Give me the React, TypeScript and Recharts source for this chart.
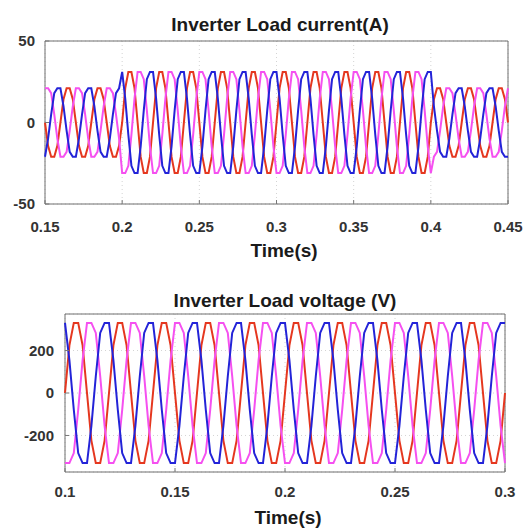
import React from 'react';
import { LineChart, Line, XAxis, YAxis, CartesianGrid, ReferenceArea } from 'recharts';

// sample times in ms (2 ms steps)
const currentTimeMs = [
  150, 152, 154, 156, 158, 160, 162, 164, 166, 168,
  170, 172, 174, 176, 178, 180, 182, 184, 186, 188,
  190, 192, 194, 196, 198, 200, 202, 204, 206, 208,
  210, 212, 214, 216, 218, 220, 222, 224, 226, 228,
  230, 232, 234, 236, 238, 240, 242, 244, 246, 248,
  250, 252, 254, 256, 258, 260, 262, 264, 266, 268,
  270, 272, 274, 276, 278, 280, 282, 284, 286, 288,
  290, 292, 294, 296, 298, 300, 302, 304, 306, 308,
  310, 312, 314, 316, 318, 320, 322, 324, 326, 328,
  330, 332, 334, 336, 338, 340, 342, 344, 346, 348,
  350, 352, 354, 356, 358, 360, 362, 364, 366, 368,
  370, 372, 374, 376, 378, 380, 382, 384, 386, 388,
  390, 392, 394, 396, 398, 400, 402, 404, 406, 408,
  410, 412, 414, 416, 418, 420, 422, 424, 426, 428,
  430, 432, 434, 436, 438, 440, 442, 444, 446, 448,
  450,
];

const currentRed = [
  0, -14.3, -21, -21, -14.3, 0, 14.3, 21, 21, 14.3,
  0, -14.3, -21, -21, -14.3, 0, 14.3, 21, 21, 14.3,
  0, -14.3, -21, -21, -14.3, 0, 21.1, 31, 31, 21.1,
  0, -21.1, -31, -31, -21.1, 0, 21.1, 31, 31, 21.1,
  0, -21.1, -31, -31, -21.1, 0, 21.1, 31, 31, 21.1,
  0, -21.1, -31, -31, -21.1, 0, 21.1, 31, 31, 21.1,
  0, -21.1, -31, -31, -21.1, 0, 21.1, 31, 31, 21.1,
  0, -21.1, -31, -31, -21.1, 0, 21.1, 31, 31, 21.1,
  0, -21.1, -31, -31, -21.1, 0, 21.1, 31, 31, 21.1,
  0, -21.1, -31, -31, -21.1, 0, 21.1, 31, 31, 21.1,
  0, -21.1, -31, -31, -21.1, 0, 21.1, 31, 31, 21.1,
  0, -21.1, -31, -31, -21.1, 0, 21.1, 31, 31, 21.1,
  0, -21.1, -31, -31, -21.1, 0, 14.3, 21, 21, 14.3,
  0, -14.3, -21, -21, -14.3, 0, 14.3, 21, 21, 14.3,
  0, -14.3, -21, -21, -14.3, 0, 14.3, 21, 21, 14.3,
  0,
];

const currentMagenta = [
  21, 21, 18, 5, -9.9, -21, -21, -18, -5, 9.9,
  21, 21, 18, 5, -9.9, -21, -21, -18, -5, 9.9,
  21, 21, 18, 5, -9.9, -31, -31, -26.6, -7.4, 14.6,
  31, 31, 26.6, 7.4, -14.6, -31, -31, -26.6, -7.4, 14.6,
  31, 31, 26.6, 7.4, -14.6, -31, -31, -26.6, -7.4, 14.6,
  31, 31, 26.6, 7.4, -14.6, -31, -31, -26.6, -7.4, 14.6,
  31, 31, 26.6, 7.4, -14.6, -31, -31, -26.6, -7.4, 14.6,
  31, 31, 26.6, 7.4, -14.6, -31, -31, -26.6, -7.4, 14.6,
  31, 31, 26.6, 7.4, -14.6, -31, -31, -26.6, -7.4, 14.6,
  31, 31, 26.6, 7.4, -14.6, -31, -31, -26.6, -7.4, 14.6,
  31, 31, 26.6, 7.4, -14.6, -31, -31, -26.6, -7.4, 14.6,
  31, 31, 26.6, 7.4, -14.6, -31, -31, -26.6, -7.4, 14.6,
  31, 31, 26.6, 7.4, -14.6, -31, -21, -18, -5, 9.9,
  21, 21, 18, 5, -9.9, -21, -21, -18, -5, 9.9,
  21, 21, 18, 5, -9.9, -21, -21, -18, -5, 9.9,
  21,
];

const currentBlue = [
  -21, -9.9, 5, 18, 21, 21, 9.9, -5, -18, -21,
  -21, -9.9, 5, 18, 21, 21, 9.9, -5, -18, -21,
  -21, -9.9, 5, 18, 21, 31, 14.6, -7.4, -26.6, -31,
  -31, -14.6, 7.4, 26.6, 31, 31, 14.6, -7.4, -26.6, -31,
  -31, -14.6, 7.4, 26.6, 31, 31, 14.6, -7.4, -26.6, -31,
  -31, -14.6, 7.4, 26.6, 31, 31, 14.6, -7.4, -26.6, -31,
  -31, -14.6, 7.4, 26.6, 31, 31, 14.6, -7.4, -26.6, -31,
  -31, -14.6, 7.4, 26.6, 31, 31, 14.6, -7.4, -26.6, -31,
  -31, -14.6, 7.4, 26.6, 31, 31, 14.6, -7.4, -26.6, -31,
  -31, -14.6, 7.4, 26.6, 31, 31, 14.6, -7.4, -26.6, -31,
  -31, -14.6, 7.4, 26.6, 31, 31, 14.6, -7.4, -26.6, -31,
  -31, -14.6, 7.4, 26.6, 31, 31, 14.6, -7.4, -26.6, -31,
  -31, -14.6, 7.4, 26.6, 31, 31, 9.9, -5, -18, -21,
  -21, -9.9, 5, 18, 21, 21, 9.9, -5, -18, -21,
  -21, -9.9, 5, 18, 21, 21, 9.9, -5, -18, -21,
  -21,
];

const voltageTimeMs = [
  100, 102, 104, 106, 108, 110, 112, 114, 116, 118,
  120, 122, 124, 126, 128, 130, 132, 134, 136, 138,
  140, 142, 144, 146, 148, 150, 152, 154, 156, 158,
  160, 162, 164, 166, 168, 170, 172, 174, 176, 178,
  180, 182, 184, 186, 188, 190, 192, 194, 196, 198,
  200, 202, 204, 206, 208, 210, 212, 214, 216, 218,
  220, 222, 224, 226, 228, 230, 232, 234, 236, 238,
  240, 242, 244, 246, 248, 250, 252, 254, 256, 258,
  260, 262, 264, 266, 268, 270, 272, 274, 276, 278,
  280, 282, 284, 286, 288, 290, 292, 294, 296, 298,
  300,
];

const voltageRed = [
  0, 224, 330, 330, 224, 0, -224, -330, -330, -224,
  0, 224, 330, 330, 224, 0, -224, -330, -330, -224,
  0, 224, 330, 330, 224, 0, -224, -330, -330, -224,
  0, 224, 330, 330, 224, 0, -224, -330, -330, -224,
  0, 224, 330, 330, 224, 0, -224, -330, -330, -224,
  0, 224, 330, 330, 224, 0, -224, -330, -330, -224,
  0, 224, 330, 330, 224, 0, -224, -330, -330, -224,
  0, 224, 330, 330, 224, 0, -224, -330, -330, -224,
  0, 224, 330, 330, 224, 0, -224, -330, -330, -224,
  0, 224, 330, 330, 224, 0, -224, -330, -330, -224,
  0,
];

const voltageMagenta = [
  -330, -330, -283, -79, 155, 330, 330, 283, 79, -155,
  -330, -330, -283, -79, 155, 330, 330, 283, 79, -155,
  -330, -330, -283, -79, 155, 330, 330, 283, 79, -155,
  -330, -330, -283, -79, 155, 330, 330, 283, 79, -155,
  -330, -330, -283, -79, 155, 330, 330, 283, 79, -155,
  -330, -330, -283, -79, 155, 330, 330, 283, 79, -155,
  -330, -330, -283, -79, 155, 330, 330, 283, 79, -155,
  -330, -330, -283, -79, 155, 330, 330, 283, 79, -155,
  -330, -330, -283, -79, 155, 330, 330, 283, 79, -155,
  -330, -330, -283, -79, 155, 330, 330, 283, 79, -155,
  -330,
];

const voltageBlue = [
  330, 155, -79, -283, -330, -330, -155, 79, 283, 330,
  330, 155, -79, -283, -330, -330, -155, 79, 283, 330,
  330, 155, -79, -283, -330, -330, -155, 79, 283, 330,
  330, 155, -79, -283, -330, -330, -155, 79, 283, 330,
  330, 155, -79, -283, -330, -330, -155, 79, 283, 330,
  330, 155, -79, -283, -330, -330, -155, 79, 283, 330,
  330, 155, -79, -283, -330, -330, -155, 79, 283, 330,
  330, 155, -79, -283, -330, -330, -155, 79, 283, 330,
  330, 155, -79, -283, -330, -330, -155, 79, 283, 330,
  330, 155, -79, -283, -330, -330, -155, 79, 283, 330,
  330,
];

const currentXTicks = [0.15, 0.2, 0.25, 0.3, 0.35, 0.4, 0.45];
const currentYTicks = [-50, 0, 50];
const voltageXTicks = [0.1, 0.15, 0.2, 0.25, 0.3];
const voltageYTicks = [-200, 0, 200];

const RED = '#e5371f';
const MAGENTA = '#f550f0';
const BLUE = '#2323d8';
const FONT = '"Liberation Sans", Arial, Helvetica, sans-serif';

const tickStyle = { fontSize: 15, fontWeight: 'bold' as const, fill: '#333', fontFamily: FONT };
const tickMark = { stroke: '#777', strokeWidth: 1 };

const currentData = currentTimeMs.map((ms, i) => ({
  t: ms / 1000,
  red: currentRed[i],
  magenta: currentMagenta[i],
  blue: currentBlue[i],
}));

const voltageData = voltageTimeMs.map((ms, i) => ({
  t: ms / 1000,
  red: voltageRed[i],
  magenta: voltageMagenta[i],
  blue: voltageBlue[i],
}));

const phases = [
  { key: 'red', color: RED },
  { key: 'magenta', color: MAGENTA },
  { key: 'blue', color: BLUE },
];

const App = () => {
  return (
    <div style={{ position: 'absolute', left: 0, top: 0, width: 531, height: 529, background: '#fff' }}>
      <div style={{ position: 'absolute', left: 0, top: 0 }}>
        <LineChart width={531} height={270} data={currentData} margin={{ top: 41, right: 23, bottom: 0, left: 0 }}>
          <CartesianGrid stroke="#d4d4d4" strokeDasharray="1 3" />
          <XAxis
            dataKey="t"
            type="number"
            domain={[0.15, 0.45]}
            ticks={currentXTicks}
            interval={0}
            height={66}
            axisLine={false}
            tickLine={tickMark}
            tickSize={-4}
            tickMargin={21}
            tick={tickStyle}
          />
          <YAxis
            type="number"
            domain={[-50, 50]}
            ticks={currentYTicks}
            interval={0}
            width={45}
            axisLine={false}
            tickLine={tickMark}
            tickSize={-4}
            tickMargin={14}
            tick={tickStyle}
          />
          {phases.map((p) => (
            <Line
              key={p.key}
              type="linear"
              dataKey={p.key}
              stroke={p.color}
              strokeWidth={2}
              dot={false}
              isAnimationActive={false}
            />
          ))}
          <ReferenceArea x1={0.15} x2={0.45} y1={-50} y2={50} fill="none" stroke="#6e6e6e" strokeWidth={1} />
        </LineChart>
      </div>

      <div style={{ position: 'absolute', left: 0, top: 270 }}>
        <LineChart width={531} height={259} data={voltageData} margin={{ top: 44, right: 26, bottom: 0, left: 0 }}>
          <CartesianGrid stroke="#d4d4d4" strokeDasharray="1 3" />
          <XAxis
            dataKey="t"
            type="number"
            domain={[0.1, 0.3]}
            ticks={voltageXTicks}
            interval={0}
            height={57}
            axisLine={false}
            tickLine={tickMark}
            tickSize={-4}
            tickMargin={18}
            tick={tickStyle}
          />
          <YAxis
            type="number"
            domain={[-372, 372]}
            ticks={voltageYTicks}
            interval={0}
            width={65}
            axisLine={false}
            tickLine={tickMark}
            tickSize={-4}
            tickMargin={15}
            tick={tickStyle}
          />
          {phases.map((p) => (
            <Line
              key={p.key}
              type="linear"
              dataKey={p.key}
              stroke={p.color}
              strokeWidth={2}
              dot={false}
              isAnimationActive={false}
            />
          ))}
          <ReferenceArea x1={0.1} x2={0.3} y1={-372} y2={372} fill="none" stroke="#6e6e6e" strokeWidth={1} />
        </LineChart>
      </div>

      <svg width={531} height={529} style={{ position: 'absolute', left: 0, top: 0, pointerEvents: 'none' }}>
        <g fontFamily={FONT} fontWeight="bold" fill="#1a1a1a" textAnchor="middle">
          <text x={280} y={31} fontSize={19}>Inverter Load current(A)</text>
          <text x={284} y={257} fontSize={19}>Time(s)</text>
          <text x={285} y={307} fontSize={19}>Inverter Load voltage (V)</text>
          <text x={288} y={524} fontSize={19}>Time(s)</text>
        </g>
      </svg>
    </div>
  );
};

export default App;
